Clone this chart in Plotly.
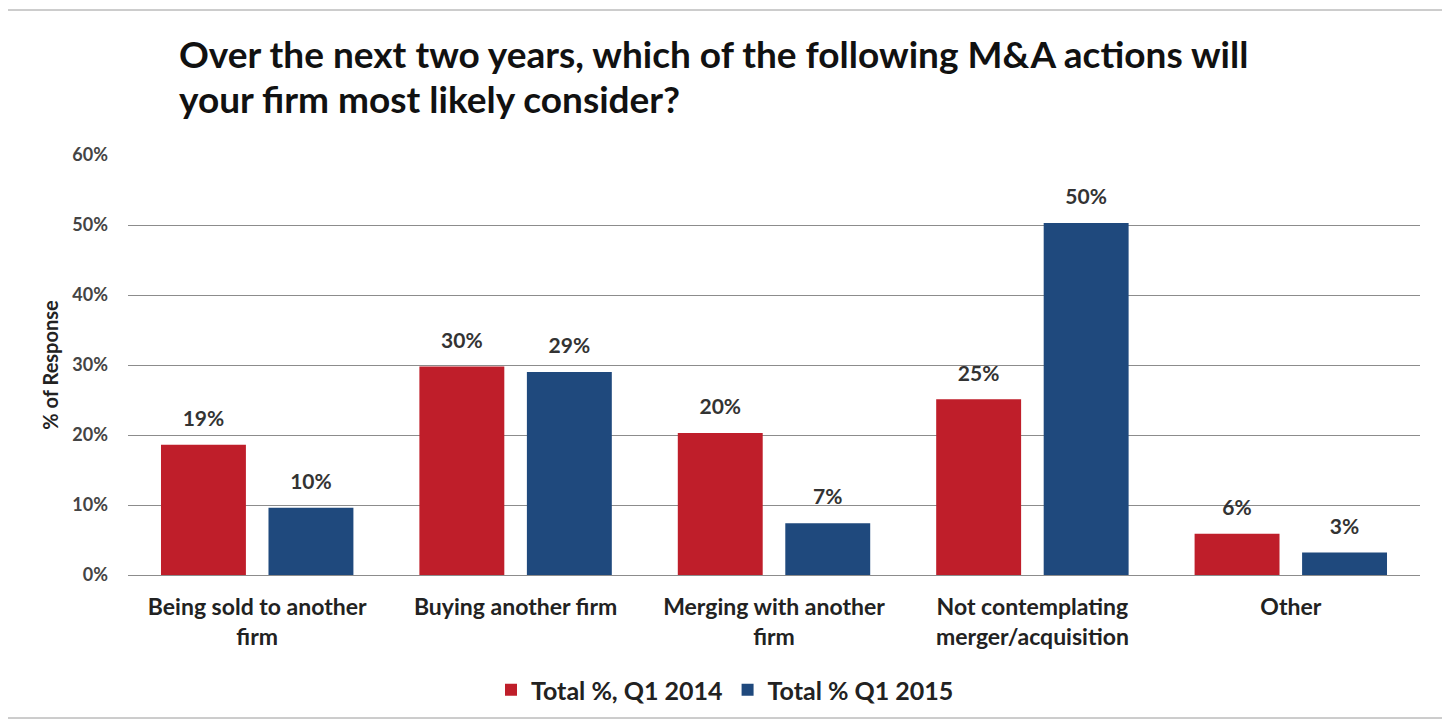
import plotly.graph_objects as go

categories = ["Being sold to another<br>firm", "Buying another firm", "Merging with another<br>firm",
              "Not contemplating<br>merger/acquisition", "Other"]
q1_2014 = [18.6, 29.8, 20.3, 25.1, 5.9]
q1_2015 = [9.6, 29.0, 7.4, 50.3, 3.2]
series_names = ["Total %, Q1 2014", "Total % Q1 2015"]
colors = ["#BF1E2A", "#1F497D"]
title_lines = ["Over the next two years, which of the following M&A actions will",
               "your firm most likely consider?"]

FONT = "Lato"
OFF = 8  # page body margin
W, H = 1450 - OFF, 721 - OFF
L, R, T, B = 128 - OFF, 30, 155 - OFF, 721 - 575
pw, ph = W - L - R, H - T - B

def px(x):  # window pixel -> paper x
    return (x - OFF - L) / pw

def py(y):  # window pixel -> paper y
    return (H - B - (y - OFF)) / ph

fig = go.Figure()
for i, (name, vals, col) in enumerate(zip(series_names, [q1_2014, q1_2015], colors)):
    fig.add_trace(go.Bar(
        x=categories, y=vals, name="<b>" + name + "</b>", marker=dict(color=col, line=dict(width=0)),
        offsetgroup=str(i), alignmentgroup="g", hoverinfo="skip",
    ))
for i, vals in enumerate([q1_2014, q1_2015]):
    fig.add_trace(go.Scatter(
        x=categories, y=vals, mode="markers+text", offsetgroup=str(i), alignmentgroup="g",
        marker=dict(size=20, opacity=0), texttemplate="<b>%{y:.0f}%</b>", textposition="top center",
        textfont=dict(family=FONT, size=21, color="#333333"), showlegend=False, cliponaxis=False,
        hoverinfo="skip",
    ))

annotations = []
for line, yc in zip(title_lines, [54, 98]):
    annotations.append(dict(
        text="<b>" + line + "</b>", xref="paper", yref="paper", x=px(177), y=py(yc),
        xanchor="left", yanchor="middle", showarrow=False,
        font=dict(family=FONT, size=37, color="#111111"),
    ))

fig.update_layout(
    width=W, height=H,
    margin=dict(l=L, r=R, t=T, b=B, autoexpand=False),
    paper_bgcolor="white", plot_bgcolor="white",
    barmode="group", bargap=0.168, bargroupgap=0.21, scattermode="group", scattergap=0.168,
    font=dict(family=FONT, color="#222222"),
    annotations=annotations,
    yaxis=dict(
        range=[0, 60], dtick=10, ticksuffix="%", showgrid=True, gridcolor="#8c8c8c", gridwidth=1,
        zeroline=True, zerolinecolor="#8c8c8c", zerolinewidth=1, showline=False,
        tickfont=dict(family=FONT, size=18, color="#444444", weight="bold"),
        ticks="", ticklabelstandoff=19,
        title=dict(text="<b>% of Response</b>", font=dict(family=FONT, size=20, color="#222222"), standoff=8),
    ),
    xaxis=dict(
        showline=False, ticks="", ticklabelstandoff=16,
        tickvals=categories, ticktext=["<b>" + c + "</b>" for c in categories],
        tickfont=dict(family=FONT, size=23, color="#222222"),
    ),
    legend=dict(
        orientation="h", x=px(725), xanchor="center", y=py(690), yanchor="middle",
        font=dict(family=FONT, size=25, color="#222222"), traceorder="normal",
        itemwidth=30,
    ),
    shapes=[dict(type="rect", xref="paper", yref="paper", x0=px(7), x1=px(1447), y0=py(718), y1=py(10),
                 line=dict(color="#9a9a9a", width=1), layer="below")],
)

fig.write_html("out.html")
